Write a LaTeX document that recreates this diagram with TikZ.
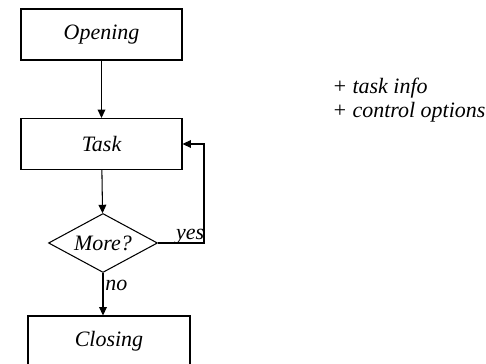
\documentclass[tikz,border=0pt]{standalone}
\usepackage{fontspec}
\setmainfont{Liberation Serif}
\usetikzlibrary{shapes.geometric, arrows.meta}

\begin{document}
\begin{tikzpicture}[>={Triangle[length=4.8pt, width=4.4pt]}, line width=0.6pt,
  stage/.style={draw, minimum width=3.22cm, minimum height=1.02cm, inner sep=0pt, font=\fontsize{12.5}{15}\selectfont\itshape},
  test/.style={draw, diamond, aspect=1.85, minimum width=2.18cm, minimum height=1.18cm, inner sep=0pt, font=\fontsize{12.5}{15}\selectfont\itshape},
  lbl/.style={font=\fontsize{12.5}{15}\selectfont\itshape, inner sep=1pt}]
\useasboundingbox (0,0) rectangle (9.72,-7.28);
\node[stage] (open) at (2.03,-0.69) {Opening};
\node[stage] (task) at (2.03,-2.88) {Task};
\node[test] (more) at (2.06,-4.86) {More?};
\node[stage, minimum width=3.24cm] (close) at (2.18,-6.83) {Closing};
\node[lbl, align=left, anchor=west] (info) at (6.60,-2.0) {+ task info\\[-1pt]+ control options};
\coordinate (back) at (4.08,-4.86);
\draw[->] (open) -- (task);
\draw[->] (task) -- (more);
\draw[->] (more.south) -- node[lbl, right, pos=0.3] {no} (more.south |- close.north);
\draw[->] (more.east) -- node[lbl, above, pos=0.7, yshift=-2pt] {yes} (back) |- (task.east);
\end{tikzpicture}
\end{document}
